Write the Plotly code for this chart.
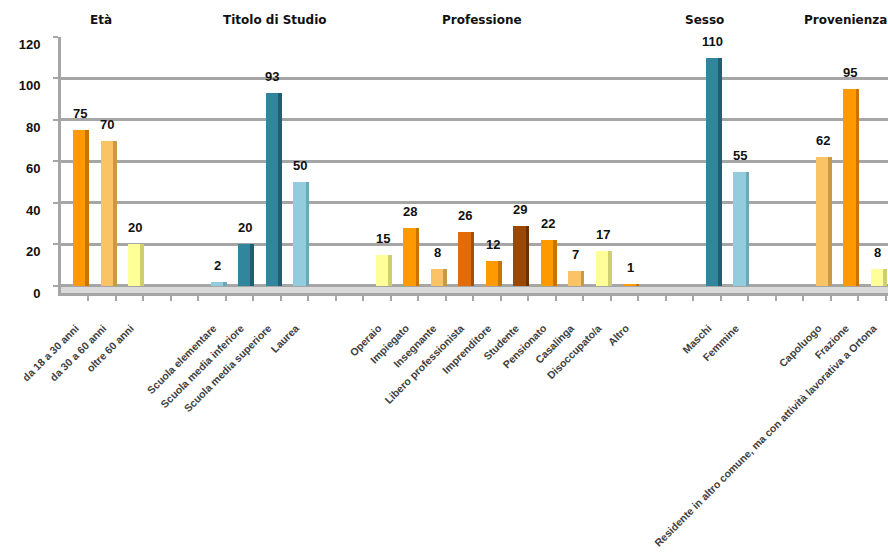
import plotly.graph_objects as go

# Categories in plotting order; empty slots separate the groups
categories = [
    "da 18 a 30 anni", "da 30 a 60 anni", "oltre 60 anni", "", "",
    "Scuola elementare", "Scuola media inferiore", "Scuola media superiore", "Laurea", "", "",
    "Operaio", "Impiegato", "Insegnante", "Libero professionista", "Imprenditore",
    "Studente", "Pensionato", "Casalinga", "Disoccupato/a", "Altro", "", "",
    "Maschi", "Femmine", "", "",
    "Capoluogo", "Frazione", "Residente in altro comune, ma con attività lavorativa a Ortona",
]
values = [
    75, 70, 20, None, None,
    2, 20, 93, 50, None, None,
    15, 28, 8, 26, 12, 29, 22, 7, 17, 1, None, None,
    110, 55, None, None,
    62, 95, 8,
]
group_titles = ["Età", "Titolo di Studio", "Professione", "Sesso", "Provenienza"]
y_ticks = [0, 20, 40, 60, 80, 100, 120]

# Bar fill colours (front face) and the darker side face
ORANGE, LORANGE, YELLOW = "#FF9900", "#FAC466", "#FFFF99"
LBLUE, TEAL, DORANGE, BROWN = "#93CDDD", "#31859C", "#E36C0A", "#984807"
front_colors = [
    ORANGE, LORANGE, YELLOW, None, None,
    LBLUE, TEAL, TEAL, LBLUE, None, None,
    YELLOW, ORANGE, LORANGE, DORANGE, ORANGE, BROWN, ORANGE, LORANGE, YELLOW, ORANGE, None, None,
    TEAL, LBLUE, None, None,
    LORANGE, ORANGE, YELLOW,
]
side_of = {
    ORANGE: "#C87400", LORANGE: "#C89A45", YELLOW: "#CFCF70", LBLUE: "#6FA7B6",
    TEAL: "#1F5F70", DORANGE: "#A94E05", BROWN: "#6A3204", None: "rgba(0,0,0,0)",
}
side_colors = [side_of[c] for c in front_colors]
front_colors = [c if c else "rgba(0,0,0,0)" for c in front_colors]

xs = list(range(len(categories)))
labelled = [i for i, c in enumerate(categories) if c]

GRID = "#A6A6A6"
fig = go.Figure()

# Floor band below the zero line
fig.add_shape(type="rect", xref="paper", x0=0, x1=1, yref="y", y0=-3.4, y1=0,
              fillcolor="#D9D9D9", line=dict(width=0), layer="below")

# Side face of each bar (gives the bars some depth)
fig.add_trace(go.Bar(
    x=xs, y=values, width=0.13, offset=0.2,
    marker=dict(color=side_colors, line=dict(width=0)),
    hoverinfo="skip", showlegend=False,
))
# Front face
fig.add_trace(go.Bar(
    x=xs, y=values, width=0.45, offset=-0.25,
    marker=dict(color=front_colors, line=dict(width=0)),
    showlegend=False,
))

# Value labels above each bar
for x, v in zip(xs, values):
    if v is None:
        continue
    fig.add_annotation(
        x=x, y=v, xref="x", yref="y", text=str(v), showarrow=False,
        xanchor="center", yanchor="bottom", yshift=7,
        font=dict(family="Liberation Sans", size=13, color="#111111", weight="bold"),
    )

# Group headings above the plot
title_x = [0.75, 7.1, 14.6, 22.7, 26.25]
title_anchor = ["center", "center", "center", "center", "left"]
for t, x, a in zip(group_titles, title_x, title_anchor):
    fig.add_annotation(
        x=x, xref="x", y=1.066, yref="paper", text=t, showarrow=False,
        xanchor=a, yanchor="middle",
        font=dict(family="DejaVu Sans", size=12, color="#111111", weight="bold"),
    )

fig.update_layout(
    width=888, height=553,
    margin=dict(l=61, r=0, t=37, b=260, autoexpand=False),
    paper_bgcolor="white", plot_bgcolor="white",
    barmode="overlay", bargap=0,
    xaxis=dict(
        range=[-0.69, 29.38],
        tickmode="array", tickvals=labelled, ticktext=[categories[i] for i in labelled],
        tickangle=-45, ticks="", showgrid=False, zeroline=False,
        showline=True, linecolor=GRID, linewidth=3,
        automargin=False, ticklabelstandoff=22, ticklabelshift=-4,
        tickfont=dict(family="Liberation Sans", size=10.5, color="#404040", weight="bold"),
        minor=dict(tick0=-0.7, dtick=1, ticks="outside", ticklen=5,
                   tickcolor=GRID, tickwidth=2, showgrid=False),
    ),
    yaxis=dict(
        range=[-3.4, 120], tickvals=y_ticks,
        showgrid=True, gridcolor=GRID, gridwidth=3,
        zeroline=False, showline=True, linecolor=GRID, linewidth=3,
        ticks="outside", ticklen=5, tickcolor=GRID, tickwidth=2,
        automargin=False, ticklabelshift=7, ticklabelstandoff=10,
        tickfont=dict(family="Liberation Sans", size=13, color="#111111", weight="bold"),
    ),
)

fig.write_html("out.html")
